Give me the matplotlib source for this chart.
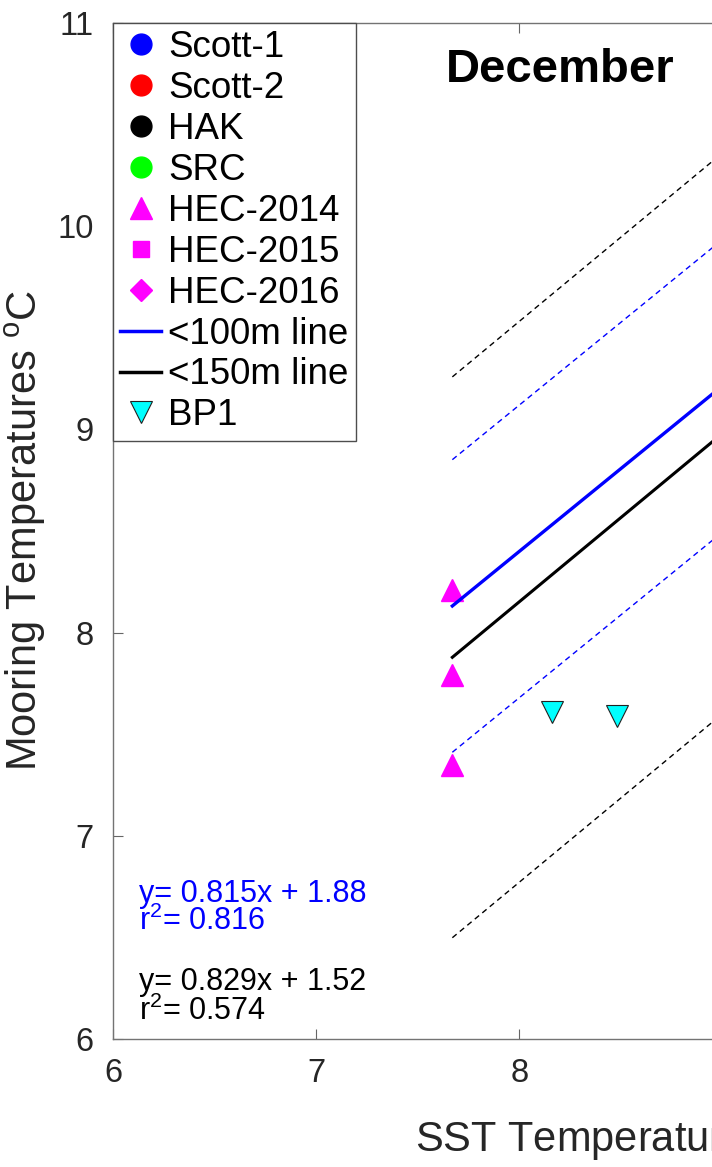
import numpy as np
import matplotlib.pyplot as plt
from matplotlib.lines import Line2D

plt.rcParams['font.family'] = ['Liberation Sans', 'DejaVu Sans']
plt.rcParams['mathtext.fontset'] = 'custom'
plt.rcParams['mathtext.rm'] = 'Liberation Sans'
plt.rcParams['mathtext.it'] = 'Liberation Sans'

# mooring stations (no December values inside this view for most of them)
scott1_sst, scott1_moor = [], []
scott2_sst, scott2_moor = [], []
hak_sst, hak_moor = [], []
src_sst, src_moor = [], []
hec2014_sst = [7.67, 7.67, 7.67]
hec2014_moor = [8.21, 7.79, 7.35]
hec2015_sst, hec2015_moor = [], []
hec2016_sst, hec2016_moor = [], []
bp1_sst = [8.16, 8.48]
bp1_moor = [7.61, 7.59]

# regression fits: slope, intercept, r^2, band half-width
fit100 = (0.815, 1.88, 0.816, 0.72)
fit150 = (0.829, 1.52, 0.574, 1.38)
fit_x = np.array([7.67, 10.0])

fig = plt.figure(figsize=(7.12, 11.67), dpi=100)
# axes runs 6..11 in x but the page only shows up to ~8.95
ax = fig.add_axes([113 / 712, (1167 - 1039) / 1167, 1016 / 712, 1016 / 1167])

m, b, r2, band = fit100
ax.plot(fit_x, m * fit_x + b + band, '--', color='blue', lw=1.0, dashes=(4, 3))
ax.plot(fit_x, m * fit_x + b - band, '--', color='blue', lw=1.0, dashes=(4, 3))
m, b, r2, band = fit150
ax.plot(fit_x, m * fit_x + b + band, '--', color='black', lw=1.0, dashes=(4, 3))
ax.plot(fit_x, m * fit_x + b - band, '--', color='black', lw=1.0, dashes=(4, 3))

mk = dict(linestyle='none')
ax.plot(scott1_sst, scott1_moor, 'o', color='blue', ms=15, **mk)
ax.plot(scott2_sst, scott2_moor, 'o', color='red', ms=15, **mk)
ax.plot(hak_sst, hak_moor, 'o', color='black', ms=15, **mk)
ax.plot(src_sst, src_moor, 'o', color='#00ff00', ms=15, **mk)
ax.plot(hec2014_sst, hec2014_moor, '^', color='magenta', ms=15.5, **mk)
ax.plot(hec2015_sst, hec2015_moor, 's', color='magenta', ms=11, **mk)
ax.plot(hec2016_sst, hec2016_moor, 'D', color='magenta', ms=11, **mk)
ax.plot(bp1_sst, bp1_moor, 'v', mfc='cyan', mec='#222222', mew=0.8, ms=15.5, **mk)

ax.plot(fit_x, fit100[0] * fit_x + fit100[1], color='blue', lw=2.4, zorder=3)
ax.plot(fit_x, fit150[0] * fit_x + fit150[1], color='black', lw=2.2, zorder=3)

# fit equations
ax.text(6.13, 6.675, f'y= {fit100[0]}x + {fit100[1]}', color='blue', fontsize=22, va='baseline')
ax.text(6.13, 6.537, f'r$^2$= {fit100[2]}', color='blue', fontsize=22, va='baseline')
ax.text(6.13, 6.241, f'y= {fit150[0]}x + {fit150[1]}', color='black', fontsize=22, va='baseline')
ax.text(6.13, 6.094, f'r$^2$= {fit150[2]}', color='black', fontsize=22, va='baseline')

ax.text(7.64, 10.71, 'December', fontsize=34, fontweight='bold', va='baseline', ha='left')

ax.set_xlim(6, 11)
ax.set_ylim(6, 11)
ax.set_xticks(range(6, 12))
ax.set_yticks(range(6, 12))
ax.tick_params(direction='in', top=True, right=True, length=7, width=0.8,
               color='0.4', labelsize=23.5, labelcolor='0.15', pad=14)
for s in ax.spines.values():
    s.set_color('0.45')
    s.set_linewidth(1.0)

ax.set_xlabel('SST Temperatures $^\\mathrm{o}$C', fontsize=30, color='0.15')
ax.xaxis.label.set_va('baseline')
ax.xaxis.set_label_coords(0.5, -113 / 1016)
ax.set_ylabel('Mooring Temperatures $^\\mathrm{o}$C', fontsize=30, color='0.15')
ax.yaxis.set_label_coords(-0.064, 0.5)

handles = [
    Line2D([], [], marker='o', color='blue', ls='none', ms=15),
    Line2D([], [], marker='o', color='red', ls='none', ms=15),
    Line2D([], [], marker='o', color='black', ls='none', ms=15),
    Line2D([], [], marker='o', color='#00ff00', ls='none', ms=15),
    Line2D([], [], marker='^', color='magenta', ls='none', ms=15.5),
    Line2D([], [], marker='s', color='magenta', ls='none', ms=11),
    Line2D([], [], marker='D', color='magenta', ls='none', ms=11),
    Line2D([], [], color='blue', lw=2.5),
    Line2D([], [], color='black', lw=2.5),
    Line2D([], [], marker='v', mfc='cyan', mec='#222222', mew=0.8, ls='none', ms=15.5),
]
labels = ['Scott-1', 'Scott-2', 'HAK', 'SRC', 'HEC-2014', 'HEC-2015', 'HEC-2016',
          '<100m line', '<150m line', 'BP1']
leg = ax.legend(handles, labels, loc='upper left', bbox_to_anchor=(0, 1), borderaxespad=0,
                fontsize=26.5, fancybox=False, framealpha=1, edgecolor='0.3',
                handlelength=1.1, handletextpad=0.2, borderpad=0.2, labelspacing=0.16)
leg.get_frame().set_linewidth(1.0)

fig.savefig('out.png', dpi=100)
